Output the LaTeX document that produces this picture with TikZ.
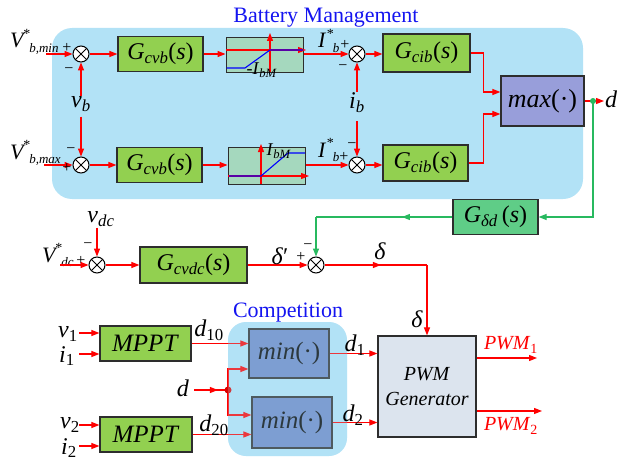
\documentclass[tikz,border=0pt]{standalone}
\usepackage{fontspec}
\setmainfont{Liberation Serif}
\usetikzlibrary{arrows.meta,calc,decorations.markings}
\definecolor{bmblue}{RGB}{178,226,246}
\definecolor{blkgreen}{RGB}{146,208,80}
\definecolor{satfill}{RGB}{165,216,190}
\definecolor{maxfill}{RGB}{152,158,218}
\definecolor{gddfill}{RGB}{95,205,135}
\definecolor{minfill}{RGB}{108,136,198}
\definecolor{pwmfill}{RGB}{220,228,238}
\definecolor{fbgreen}{RGB}{40,185,95}
\definecolor{bordc}{RGB}{45,45,45}
\definecolor{titleblue}{RGB}{20,20,240}
\newcommand\fs[1]{\fontsize{#1}{#1}\selectfont}
\newcommand\G[1]{\textit{G}\textsubscript{\textit{#1}}(\textit{s})}
\newcommand\isub[2]{\textit{#1}\textsubscript{\textit{#2}}}
\newcommand\supsb[4][-2.5pt]{\textit{#2}\hspace{#1}\raisebox{0.45em}{\fs{14}#3}\hspace{-1pt}\raisebox{-0.2em}{\fs{13}\textit{#4}}}
\tikzset{
 blk/.style={draw=bordc, line width=1.2pt, inner sep=0pt, font=\fs{24}},
 sumj/.style={circle, draw=black, fill=white, line width=1pt, minimum size=16pt, inner sep=0pt,
   path picture={\draw[line width=1pt] (path picture bounding box.north west) -- (path picture bounding box.south east)
     (path picture bounding box.north east) -- (path picture bounding box.south west);}},
 sig/.style={red, line width=1.1pt},
 arr/.style={sig, -{Triangle[length=8pt,width=6pt]}},
 garr/.style={fbgreen, line width=1.1pt, -{Triangle[length=8pt,width=6pt]}},
 midarr/.style={postaction={decorate}, decoration={markings, mark=at position #1 with {\arrow{Triangle[length=8pt,width=6pt]}}}},
 lbl/.style={inner sep=0pt, font=\fs{24}},
 slbl/.style={inner sep=0pt, font=\fs{18}},
 sgn/.style={inner sep=0pt, font=\fs{16}},
 reflbl/.style={anchor=base west, inner sep=0pt, font=\fs{22}},
}
\begin{document}
\begin{tikzpicture}[x=1pt,y=-1pt]
\useasboundingbox (0,0) rectangle (621,460);
% Battery management region
\path[fill=bmblue, rounded corners=20pt] (52,28) rectangle (583,199);
\node[anchor=base, inner sep=0pt, font=\fs{22}, text=titleblue] (bmt) at (326,23) {Battery Management};

% ---- Row 1
\node[sumj] (s1) at (81,54) {};
\node[blk, fill=blkgreen, minimum width=85pt, minimum height=35pt] (gcvb1) at (160.5,54) {\G{cvb}};
\node[blk, fill=satfill, minimum width=77pt, minimum height=35pt, line width=1pt] (sat1) at (264.5,55) {};
\node[sumj] (s2) at (357,54) {};
\node[blk, fill=blkgreen, minimum width=87pt, minimum height=38pt] (gcib1) at (426.5,53) {\G{cib}};
\node[reflbl] (vmin) at (10,48) {\supsb{V}{*}{b,min}};
\coordinate (in1) at (46,54);
\draw[arr] (in1) -- (s1.west);
\node[sgn] at (67,48) {+};
\node[sgn] at (69,71) {−};
\draw[arr] (s1.east) -- (s1.east -| gcvb1.west);
\draw[arr] (gcvb1.east) -- (gcvb1.east -| sat1.west);
% saturation 1 graphics
\draw[arr] (226,50) -- (306,50);
\draw[arr] (270,72.5) -- (270,33);
\draw[blue, line width=1.1pt] (226.5,68) -- (245,68) -- (270,50) -- (303,50);
\node[slbl] at (262,70) {-\isub{I}{bM}};
\draw[arr] (sat1.east |- s2) -- (s2.west);
\node[reflbl] (ib1) at (318,48) {\supsb[0.5pt]{I}{*}{b}};
\node[sgn] at (345,45) {+};
\node[sgn] at (343,68) {−};
\draw[arr] (s2.east) -- (s2.east -| gcib1.west);

% v_b and i_b
\node[lbl] (vb) at (81,104) {\isub{v}{b}};
\draw[arr] (s1.south |- vb.north) -- (s1.south);
\node[lbl] (ibl) at (357,103) {\isub{i}{b}};
\draw[arr] (s2.south |- ibl.north) ++(0,-1) -- (s2.south);

% ---- Row 2
\node[sumj] (s3) at (81,165) {};
\node[blk, fill=blkgreen, minimum width=85pt, minimum height=35pt] (gcvb2) at (159.5,165) {\G{cvb}};
\node[blk, fill=satfill, minimum width=77pt, minimum height=37pt, line width=1pt] (sat2) at (266.5,165.5) {};
\node[sumj] (s4) at (357,165) {};
\node[blk, fill=blkgreen, minimum width=85pt, minimum height=36pt] (gcib2) at (425.5,163) {\G{cib}};
\node[reflbl] (vmax) at (10,159) {\supsb{V}{*}{b,max}};
\coordinate (in2) at (44,165);
\draw[arr] (in2) -- (s3.west);
\node[sgn] at (67,168) {+};
\node[sgn] at (71,151) {−};
\draw[arr] (s3.east) -- (s3.east -| gcvb2.west);
\draw[arr] (gcvb2.east) -- (gcvb2.east -| sat2.west);
\draw[arr] (s1.south |- vb.south) ++(0,5) -- (s3.north);
% saturation 2 graphics
\draw[arr] (228,176) -- (309,176);
\draw[arr] (261,184) -- (261,144);
\draw[blue, line width=1.1pt] (229,176) -- (261,176) -- (288,153) -- (305,153);
\node[slbl] at (279,151) {\isub{I}{bM}};
\draw[arr] (sat2.east |- s4) -- (s4.west);
\node[reflbl] (ib2) at (318,157) {\supsb[0.5pt]{I}{*}{b}};
\node[sgn] at (344,157) {+};
\node[sgn] at (352,146) {−};
\draw[arr] (s2.south |- ibl.south) ++(0,8) -- (s4.north);
\draw[arr] (s4.east) -- (s4.east -| gcib2.west);

% max block
\node[blk, fill=maxfill, minimum width=83pt, minimum height=50pt, font=\fs{26}] (maxb) at (542.5,101) {\textit{max}(·)};
\draw[arr] (gcib1.east) -- ++(13,0) |- ($(maxb.west)+(0,-9)$);
\draw[arr] (gcib2.east) -- ++(15,0) |- ($(maxb.west)+(0,13)$);
\coordinate (dout) at (604,101);
\draw[arr] (maxb.east) -- (dout);
\node[lbl, anchor=west] (dlab) at (605,99) {\textit{d}};
\coordinate (gdot) at (593,101);

% feedback
\node[blk, fill=gddfill, minimum width=85pt, minimum height=35pt] (gdd) at (495.5,217) {\textit{G}\textsubscript{\textit{δd}}\,(\textit{s})};
\draw[garr] (gdot) |- (gdd.east);
\fill[fbgreen] (gdot) circle (3pt);
\coordinate (gc) at (316,217);

% ---- DC row
\node[sumj] (s5) at (97,265) {};
\node[blk, fill=blkgreen, minimum width=107pt, minimum height=36pt] (gcvdc) at (193.5,265) {\G{cvdc}};
\node[sumj] (s6) at (316,265) {};
\draw[fbgreen, line width=1.1pt, midarr=0.37] (gdd.west) -- (gc);
\draw[garr] (gc) -- (s6.north);
\node[reflbl] (vdcref) at (42,262) {\supsb{V}{*}{dc}};
\node[sgn] at (81,261) {+};
\node[sgn] at (88,246) {−};
\coordinate (in3) at (60,265);
\draw[arr] (in3) -- (s5.west);
\node[lbl] (vdc) at (101,219) {\isub{v}{dc}};
\draw[arr] (s5.north |- vdc.south) ++(0,1) -- (s5.north);
\draw[arr] (s5.east) -- (gcvdc.west);
\draw[arr] (gcvdc.east) -- (s6.west);
\node[lbl] at (280,256) {\textit{δ}′};
\node[sgn] at (301,257) {+};
\node[sgn] at (308,247) {−};
\coordinate (dc) at (427,265);
\draw[sig, midarr=0.55] (s6.east) -- (dc);
\node[lbl] at (380,251) {\textit{δ}};

% ---- Competition
\path[fill=bmblue, rounded corners=18pt] (228,322) rectangle (347,456);
\node[blk, fill=blkgreen, minimum width=91pt, minimum height=35pt, font=\fs{25}] (mppt1) at (145.5,343.5) {\textit{MPPT}};
\node[blk, fill=blkgreen, minimum width=92pt, minimum height=35pt, font=\fs{25}] (mppt2) at (146,434.5) {\textit{MPPT}};
\node[blk, fill=minfill, minimum width=80pt, minimum height=49pt, font=\fs{25}] (min1) at (289,353.5) {\textit{min}(·)};
\node[blk, fill=minfill, minimum width=80pt, minimum height=51pt, font=\fs{25}] (min2) at (292,422.5) {\textit{min}(·)};
\node[blk, fill=pwmfill, minimum width=98pt, minimum height=101pt, font=\fontsize{20}{25}\selectfont, align=center] (pwm) at (427,386.5) {\textit{PWM}\\\textit{Generator}};
\draw[arr] (dc) -- (pwm.north);
\node[lbl] at (417,319) {\textit{δ}};

\draw[arr] ($(mppt1.west)+(-20,-10.5)$) -- ($(mppt1.west)+(0,-10.5)$);
\draw[arr] ($(mppt1.west)+(-20,10.5)$) -- ($(mppt1.west)+(0,10.5)$);
\draw[arr] ($(mppt2.west)+(-20,-9.5)$) -- ($(mppt2.west)+(0,-9.5)$);
\draw[arr] ($(mppt2.west)+(-20,11.5)$) -- ($(mppt2.west)+(0,11.5)$);
\node[lbl] at (68,334) {\textit{v}\textsubscript{1}};
\node[lbl] at (67,356) {\textit{i}\textsubscript{1}};
\node[lbl] at (70,425) {\textit{v}\textsubscript{2}};
\node[lbl] at (69,448) {\textit{i}\textsubscript{2}};

\draw[arr] (mppt1.east) -- (mppt1.east -| min1.west);
\draw[arr] (mppt2.east) -- (mppt2.east -| min2.west);
\node[lbl] (dl) at (183,388) {\textit{d}};
\coordinate (dj) at (228,390);
\draw[sig, midarr=0.7] (dl.east) ++(5,2) -- (dj);
\draw[arr] (dj) |- ($(min1.west)+(0,15.5)$);
\draw[arr] (dj) |- ($(min2.west)+(0,-7.5)$);
\fill[red!85!black] (dj) circle (3.5pt);
\draw[arr] (min1.east) -- (min1.east -| pwm.west);
\draw[arr] (min2.east) -- (min2.east -| pwm.west);
% translucent overlay of the competition region
\path[fill=bmblue, fill opacity=0.25, rounded corners=18pt] (228,322) rectangle (347,456);
\node[anchor=base, inner sep=0pt, font=\fs{22}, text=titleblue] (ct) at (288,317) {Competition};
\node[lbl] at (209,330) {\textit{d}\textsubscript{10}};
\node[lbl] at (214,425) {\textit{d}\textsubscript{20}};
\node[lbl] at (355,345) {\textit{d}\textsubscript{1}};
\node[lbl] at (353,415) {\textit{d}\textsubscript{2}};

% PWM outputs
\coordinate (p1) at (537,358);
\coordinate (p2) at (542,411);
\draw[arr] (pwm.east |- p1) -- (p1);
\draw[arr] (pwm.east |- p2) -- (p2);
\node[inner sep=0pt, font=\fs{20}, text=red] at (511,345) {\textit{PWM}\textsubscript{1}};
\node[inner sep=0pt, font=\fs{20}, text=red] at (511,426) {\textit{PWM}\textsubscript{2}};
\end{tikzpicture}
\end{document}
